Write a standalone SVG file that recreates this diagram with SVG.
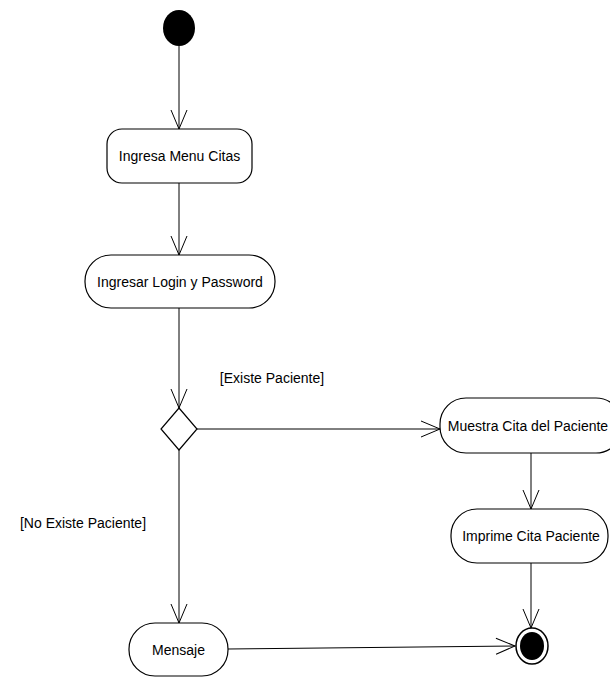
<svg xmlns="http://www.w3.org/2000/svg" width="610" height="677" viewBox="0 0 610 677">
<style>
.node{fill:#fff;stroke:#000;stroke-width:1.2}
.lbl{font-family:"Liberation Sans",Arial,sans-serif;font-size:14px;fill:#000;text-anchor:middle}
.edge{fill:none;stroke:#000;stroke-width:1}
</style>
<defs>
<marker id="arr" viewBox="-21 -10 23 20" refX="0" refY="0" markerWidth="23" markerHeight="20" markerUnits="userSpaceOnUse" orient="auto">
<path d="M-19,-8 L0,0 L-19,8" fill="none" stroke="#000" stroke-width="1"/>
</marker>
</defs>
<rect width="610" height="677" fill="#fff"/>
<g id="connectors">
<line class="edge" x1="179" y1="46" x2="179" y2="129" marker-end="url(#arr)"/>
<line class="edge" x1="179" y1="183" x2="179" y2="255" marker-end="url(#arr)"/>
<line class="edge" x1="179" y1="308" x2="179" y2="408" marker-end="url(#arr)"/>
<line class="edge" x1="197" y1="429" x2="440" y2="429" marker-end="url(#arr)"/>
<line class="edge" x1="179" y1="450" x2="179" y2="623" marker-end="url(#arr)"/>
<line class="edge" x1="531" y1="453" x2="531" y2="509" marker-end="url(#arr)"/>
<line class="edge" x1="531" y1="563" x2="531" y2="628" marker-end="url(#arr)"/>
<line class="edge" x1="228" y1="649" x2="515" y2="646" marker-end="url(#arr)"/>
<text class="lbl" x="272" y="383">[Existe Paciente]</text>
<text class="lbl" x="83" y="528">[No Existe Paciente]</text>
</g>
<g id="start"><ellipse cx="179" cy="28" rx="16" ry="18" fill="#000"/></g>
<g id="ingresaMenu"><rect class="node" x="107" y="129" width="145" height="54" rx="15"/><text class="lbl" x="179.5" y="161">Ingresa Menu Citas</text></g>
<g id="ingresarLogin"><rect class="node" x="85" y="255" width="190" height="53" rx="26"/><text class="lbl" x="180" y="287">Ingresar Login y Password</text></g>
<g id="decision"><polygon class="node" points="179,408 197,429 179,450 161,429"/></g>
<g id="muestraCita"><rect class="node" x="440" y="398" width="182" height="55" rx="26"/><text class="lbl" x="528" y="431">Muestra Cita del Paciente</text></g>
<g id="imprimeCita"><rect class="node" x="451" y="509" width="157" height="54" rx="26"/><text class="lbl" x="531" y="541">Imprime Cita Paciente</text></g>
<g id="mensaje"><rect class="node" x="129" y="623" width="99" height="53" rx="26"/><text class="lbl" x="178.5" y="655">Mensaje</text></g>
<g id="end"><ellipse cx="532" cy="646" rx="16" ry="18" fill="#fff" stroke="#000" stroke-width="1.5"/><ellipse cx="532" cy="646" rx="12" ry="14" fill="#000"/></g>
</svg>
